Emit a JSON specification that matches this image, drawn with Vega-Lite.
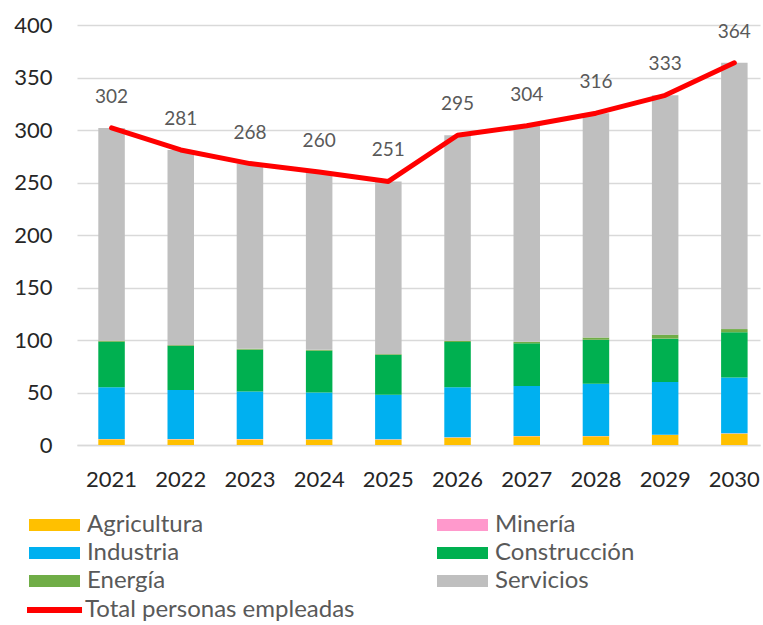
{
  "$schema": "https://vega.github.io/schema/vega-lite/v6.json",
  "width": 683,
  "height": 420,
  "autosize": {"type": "none"},
  "padding": {"left": 77, "top": 25, "right": 3, "bottom": 180},
  "config": {
    "font": "Lato",
    "view": {"stroke": null},
    "axis": {"title": null, "ticks": false, "labelColor": "#262626", "labelFontSize": 22, "gridColor": "#d9d9d9", "gridWidth": 1.5}
  },
  "datasets": {
    "sectores": [
      {"anio": "2021", "sector": "Agricultura", "orden": 1, "valor": 5.4},
      {"anio": "2021", "sector": "Minería", "orden": 2, "valor": 0.3},
      {"anio": "2021", "sector": "Industria", "orden": 3, "valor": 49.2},
      {"anio": "2021", "sector": "Construcción", "orden": 4, "valor": 43.5},
      {"anio": "2021", "sector": "Energía", "orden": 5, "valor": 0.8},
      {"anio": "2021", "sector": "Servicios", "orden": 6, "valor": 202.8},
      {"anio": "2022", "sector": "Agricultura", "orden": 1, "valor": 5.3},
      {"anio": "2022", "sector": "Minería", "orden": 2, "valor": 0.3},
      {"anio": "2022", "sector": "Industria", "orden": 3, "valor": 46.7},
      {"anio": "2022", "sector": "Construcción", "orden": 4, "valor": 42.0},
      {"anio": "2022", "sector": "Energía", "orden": 5, "valor": 0.8},
      {"anio": "2022", "sector": "Servicios", "orden": 6, "valor": 185.9},
      {"anio": "2023", "sector": "Agricultura", "orden": 1, "valor": 5.3},
      {"anio": "2023", "sector": "Minería", "orden": 2, "valor": 0.3},
      {"anio": "2023", "sector": "Industria", "orden": 3, "valor": 45.4},
      {"anio": "2023", "sector": "Construcción", "orden": 4, "valor": 39.8},
      {"anio": "2023", "sector": "Energía", "orden": 5, "valor": 0.8},
      {"anio": "2023", "sector": "Servicios", "orden": 6, "valor": 176.4},
      {"anio": "2024", "sector": "Agricultura", "orden": 1, "valor": 5.2},
      {"anio": "2024", "sector": "Minería", "orden": 2, "valor": 0.3},
      {"anio": "2024", "sector": "Industria", "orden": 3, "valor": 44.6},
      {"anio": "2024", "sector": "Construcción", "orden": 4, "valor": 39.7},
      {"anio": "2024", "sector": "Energía", "orden": 5, "valor": 0.8},
      {"anio": "2024", "sector": "Servicios", "orden": 6, "valor": 169.4},
      {"anio": "2025", "sector": "Agricultura", "orden": 1, "valor": 5.1},
      {"anio": "2025", "sector": "Minería", "orden": 2, "valor": 0.3},
      {"anio": "2025", "sector": "Industria", "orden": 3, "valor": 42.5},
      {"anio": "2025", "sector": "Construcción", "orden": 4, "valor": 37.8},
      {"anio": "2025", "sector": "Energía", "orden": 5, "valor": 0.8},
      {"anio": "2025", "sector": "Servicios", "orden": 6, "valor": 164.5},
      {"anio": "2026", "sector": "Agricultura", "orden": 1, "valor": 7.0},
      {"anio": "2026", "sector": "Minería", "orden": 2, "valor": 0.3},
      {"anio": "2026", "sector": "Industria", "orden": 3, "valor": 47.6},
      {"anio": "2026", "sector": "Construcción", "orden": 4, "valor": 43.2},
      {"anio": "2026", "sector": "Energía", "orden": 5, "valor": 1.0},
      {"anio": "2026", "sector": "Servicios", "orden": 6, "valor": 195.9},
      {"anio": "2027", "sector": "Agricultura", "orden": 1, "valor": 8.3},
      {"anio": "2027", "sector": "Minería", "orden": 2, "valor": 0.3},
      {"anio": "2027", "sector": "Industria", "orden": 3, "valor": 47.6},
      {"anio": "2027", "sector": "Construcción", "orden": 4, "valor": 40.6},
      {"anio": "2027", "sector": "Energía", "orden": 5, "valor": 1.5},
      {"anio": "2027", "sector": "Servicios", "orden": 6, "valor": 205.7},
      {"anio": "2028", "sector": "Agricultura", "orden": 1, "valor": 8.3},
      {"anio": "2028", "sector": "Minería", "orden": 2, "valor": 0.3},
      {"anio": "2028", "sector": "Industria", "orden": 3, "valor": 49.7},
      {"anio": "2028", "sector": "Construcción", "orden": 4, "valor": 42.0},
      {"anio": "2028", "sector": "Energía", "orden": 5, "valor": 2.0},
      {"anio": "2028", "sector": "Servicios", "orden": 6, "valor": 213.7},
      {"anio": "2029", "sector": "Agricultura", "orden": 1, "valor": 9.5},
      {"anio": "2029", "sector": "Minería", "orden": 2, "valor": 0.3},
      {"anio": "2029", "sector": "Industria", "orden": 3, "valor": 50.2},
      {"anio": "2029", "sector": "Construcción", "orden": 4, "valor": 41.3},
      {"anio": "2029", "sector": "Energía", "orden": 5, "valor": 3.8},
      {"anio": "2029", "sector": "Servicios", "orden": 6, "valor": 227.9},
      {"anio": "2030", "sector": "Agricultura", "orden": 1, "valor": 10.8},
      {"anio": "2030", "sector": "Minería", "orden": 2, "valor": 0.3},
      {"anio": "2030", "sector": "Industria", "orden": 3, "valor": 53.3},
      {"anio": "2030", "sector": "Construcción", "orden": 4, "valor": 43.0},
      {"anio": "2030", "sector": "Energía", "orden": 5, "valor": 3.0},
      {"anio": "2030", "sector": "Servicios", "orden": 6, "valor": 253.6}
    ],
    "totales": [
      {"anio": "2021", "total": 302},
      {"anio": "2022", "total": 281},
      {"anio": "2023", "total": 268},
      {"anio": "2024", "total": 260},
      {"anio": "2025", "total": 251},
      {"anio": "2026", "total": 295},
      {"anio": "2027", "total": 304},
      {"anio": "2028", "total": 316},
      {"anio": "2029", "total": 333},
      {"anio": "2030", "total": 364}
    ]
  },
  "encoding": {
    "x": {
      "field": "anio",
      "type": "ordinal",
      "scale": {"paddingInner": 0.617, "paddingOuter": 0.2435, "align": 0.632},
      "axis": {"labelAngle": 0, "domain": true, "domainColor": "#d9d9d9", "domainWidth": 1.5, "labelPadding": 24}
    }
  },
  "layer": [
    {
      "data": {"name": "sectores"},
      "mark": {"type": "bar"},
      "encoding": {
        "y": {
          "field": "valor",
          "type": "quantitative",
          "stack": "zero",
          "scale": {"domain": [0, 400], "nice": false},
          "axis": {"values": [0, 50, 100, 150, 200, 250, 300, 350, 400], "domain": false, "grid": true, "labelPadding": 25}
        },
        "order": {"field": "orden", "type": "quantitative", "sort": "ascending"},
        "color": {
          "field": "sector",
          "type": "nominal",
          "scale": {
            "domain": ["Agricultura", "Minería", "Industria", "Construcción", "Energía", "Servicios"],
            "range": ["#FFC000", "#FF99CC", "#00B0F0", "#00B050", "#70AD47", "#BFBFBF"]
          },
          "legend": {
            "title": null,
            "orient": "none",
            "direction": "horizontal",
            "legendX": -54,
            "legendY": 488,
            "columns": 2,
            "columnPadding": 227,
            "rowPadding": 4,
            "symbolType": "M-1,-1H7.5V1H-1Z",
            "symbolSize": 144,
            "symbolStrokeWidth": 0,
            "labelOffset": 40,
            "labelFontSize": 24,
            "labelColor": "#595959",
            "labelLimit": 300
          }
        }
      }
    },
    {
      "data": {"name": "totales"},
      "mark": {"type": "line", "strokeWidth": 5, "strokeCap": "round", "strokeJoin": "round"},
      "encoding": {
        "y": {"field": "total", "type": "quantitative"},
        "stroke": {
          "datum": "Total personas empleadas",
          "scale": {"range": ["#FF0000"]},
          "legend": {
            "title": null,
            "orient": "none",
            "legendX": -56,
            "legendY": 573,
            "symbolType": "M-1,0H8.17",
            "symbolSize": 144,
            "symbolStrokeWidth": 6,
            "labelOffset": 40,
            "labelFontSize": 24,
            "labelColor": "#595959",
            "labelLimit": 400
          }
        }
      }
    },
    {
      "data": {"name": "totales"},
      "mark": {"type": "text", "dy": -31, "fontSize": 19, "color": "#595959"},
      "encoding": {
        "y": {"field": "total", "type": "quantitative"},
        "text": {"field": "total", "type": "quantitative"}
      }
    }
  ]
}
